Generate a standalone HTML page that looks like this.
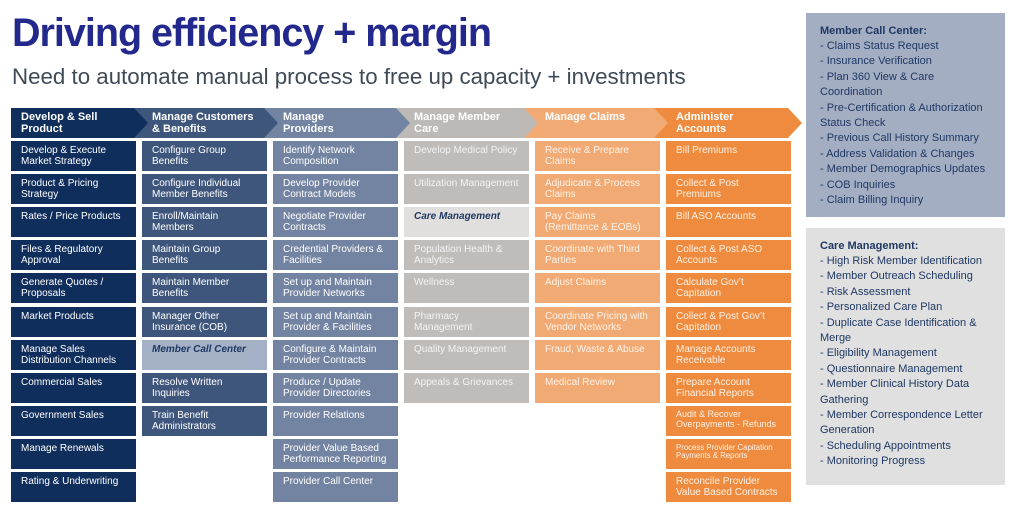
<!DOCTYPE html>
<html>
<head>
<meta charset="utf-8">
<style>
  html, body { margin:0; padding:0; }
  body { width:1024px; height:514px; background:#ffffff; position:relative; overflow:hidden;
         font-family:"Liberation Sans", Arial, sans-serif; }
  .title { position:absolute; left:12px; top:9px; font-size:39.5px; font-weight:bold; color:#23298c;
           letter-spacing:-1px; line-height:48px; white-space:nowrap; }
  .sub { position:absolute; left:12px; top:63px; font-size:22.3px; color:#3f4a57; line-height:28px; white-space:nowrap; }
  .hdr { position:absolute; top:111px; font-size:11px; font-weight:bold; color:#ffffff; line-height:12px; }
  .box { position:absolute; width:125px; height:30px; box-sizing:border-box; padding:4px 0 0 10px;
         font-size:10px; line-height:11px; color:#ffffff; }
  .c1 { background:#102e5c; }
  .c2 { background:#3f567c; }
  .c3 { background:#7384a2; }
  .c4 { background:#bfbcb9; color:#f4f4f4; }
  .c5 { background:#f2aa74; color:#fdf3ea; }
  .c6 { background:#ef8b3f; color:#fdf1e6; }
  .hl2 { background:#a4b0c5; color:#1f3864; font-weight:bold; font-style:italic; }
  .hl4 { background:#e0dfdd; color:#1f3864; font-weight:bold; font-style:italic; }
  .panel { position:absolute; left:806px; width:199px; box-sizing:border-box; padding:10.5px 0 0 14px;
           font-size:11px; line-height:15.4px; color:#1f3864; }
  .panel b { font-weight:bold; }
</style>
</head>
<body>
<div class="title">Driving efficiency + margin</div>
<div class="sub">Need to automate manual process to free up capacity + investments</div>

<svg style="position:absolute;left:0;top:0" width="1024" height="514">
  <polygon points="654,108 788,108 802,123 788,138 654,138" fill="#ef8b3f"/>
  <polygon points="524,108 654,108 668,123 654,138 524,138" fill="#f2aa74"/>
  <polygon points="396,108 524,108 538,123 524,138 396,138" fill="#bdb9b6"/>
  <polygon points="264,108 396,108 410,123 396,138 264,138" fill="#7384a2"/>
  <polygon points="134,108 264,108 278,123 264,138 134,138" fill="#3f567c"/>
  <polygon points="11,108 134,108 148,123 134,138 11,138" fill="#102e5c"/>
</svg>

<div class="hdr" style="left:21px">Develop &amp; Sell<br>Product</div>
<div class="hdr" style="left:152px">Manage Customers<br>&amp; Benefits</div>
<div class="hdr" style="left:283px">Manage<br>Providers</div>
<div class="hdr" style="left:414px">Manage Member<br>Care</div>
<div class="hdr" style="left:545px">Manage Claims</div>
<div class="hdr" style="left:676px">Administer<br>Accounts</div>

<!-- Column 1 -->
<div class="box c1" style="left:11px;top:141px">Develop &amp; Execute<br>Market Strategy</div>
<div class="box c1" style="left:11px;top:174px">Product &amp; Pricing<br>Strategy</div>
<div class="box c1" style="left:11px;top:207px">Rates / Price Products</div>
<div class="box c1" style="left:11px;top:240px">Files &amp; Regulatory<br>Approval</div>
<div class="box c1" style="left:11px;top:273px">Generate Quotes /<br>Proposals</div>
<div class="box c1" style="left:11px;top:307px">Market Products</div>
<div class="box c1" style="left:11px;top:340px">Manage Sales<br>Distribution Channels</div>
<div class="box c1" style="left:11px;top:373px">Commercial Sales</div>
<div class="box c1" style="left:11px;top:406px">Government Sales</div>
<div class="box c1" style="left:11px;top:439px">Manage Renewals</div>
<div class="box c1" style="left:11px;top:472px">Rating &amp; Underwriting</div>

<!-- Column 2 -->
<div class="box c2" style="left:142px;top:141px">Configure Group<br>Benefits</div>
<div class="box c2" style="left:142px;top:174px">Configure Individual<br>Member Benefits</div>
<div class="box c2" style="left:142px;top:207px">Enroll/Maintain<br>Members</div>
<div class="box c2" style="left:142px;top:240px">Maintain Group<br>Benefits</div>
<div class="box c2" style="left:142px;top:273px">Maintain Member<br>Benefits</div>
<div class="box c2" style="left:142px;top:307px">Manager Other<br>Insurance (COB)</div>
<div class="box hl2" style="left:142px;top:340px">Member Call Center</div>
<div class="box c2" style="left:142px;top:373px">Resolve Written<br>Inquiries</div>
<div class="box c2" style="left:142px;top:406px">Train Benefit<br>Administrators</div>

<!-- Column 3 -->
<div class="box c3" style="left:273px;top:141px">Identify Network<br>Composition</div>
<div class="box c3" style="left:273px;top:174px">Develop Provider<br>Contract Models</div>
<div class="box c3" style="left:273px;top:207px">Negotiate Provider<br>Contracts</div>
<div class="box c3" style="left:273px;top:240px">Credential Providers &amp;<br>Facilities</div>
<div class="box c3" style="left:273px;top:273px">Set up and Maintain<br>Provider Networks</div>
<div class="box c3" style="left:273px;top:307px">Set up and Maintain<br>Provider &amp; Facilities</div>
<div class="box c3" style="left:273px;top:340px">Configure &amp; Maintain<br>Provider Contracts</div>
<div class="box c3" style="left:273px;top:373px">Produce / Update<br>Provider Directories</div>
<div class="box c3" style="left:273px;top:406px">Provider Relations</div>
<div class="box c3" style="left:273px;top:439px">Provider Value Based<br>Performance Reporting</div>
<div class="box c3" style="left:273px;top:472px">Provider Call Center</div>

<!-- Column 4 -->
<div class="box c4" style="left:404px;top:141px">Develop Medical Policy</div>
<div class="box c4" style="left:404px;top:174px">Utilization Management</div>
<div class="box hl4" style="left:404px;top:207px">Care Management</div>
<div class="box c4" style="left:404px;top:240px">Population Health &amp;<br>Analytics</div>
<div class="box c4" style="left:404px;top:273px">Wellness</div>
<div class="box c4" style="left:404px;top:307px">Pharmacy<br>Management</div>
<div class="box c4" style="left:404px;top:340px">Quality Management</div>
<div class="box c4" style="left:404px;top:373px">Appeals &amp; Grievances</div>

<!-- Column 5 -->
<div class="box c5" style="left:535px;top:141px">Receive &amp; Prepare<br>Claims</div>
<div class="box c5" style="left:535px;top:174px">Adjudicate &amp; Process<br>Claims</div>
<div class="box c5" style="left:535px;top:207px">Pay Claims<br>(Remittance &amp; EOBs)</div>
<div class="box c5" style="left:535px;top:240px">Coordinate with Third<br>Parties</div>
<div class="box c5" style="left:535px;top:273px">Adjust Claims</div>
<div class="box c5" style="left:535px;top:307px">Coordinate Pricing with<br>Vendor Networks</div>
<div class="box c5" style="left:535px;top:340px">Fraud, Waste &amp; Abuse</div>
<div class="box c5" style="left:535px;top:373px">Medical Review</div>

<!-- Column 6 -->
<div class="box c6" style="left:666px;top:141px">Bill Premiums</div>
<div class="box c6" style="left:666px;top:174px">Collect &amp; Post<br>Premiums</div>
<div class="box c6" style="left:666px;top:207px">Bill ASO Accounts</div>
<div class="box c6" style="left:666px;top:240px">Collect &amp; Post ASO<br>Accounts</div>
<div class="box c6" style="left:666px;top:273px">Calculate Gov’t<br>Capitation</div>
<div class="box c6" style="left:666px;top:307px">Collect &amp; Post Gov’t<br>Capitation</div>
<div class="box c6" style="left:666px;top:340px">Manage Accounts<br>Receivable</div>
<div class="box c6" style="left:666px;top:373px">Prepare Account<br>Financial Reports</div>
<div class="box c6" style="left:666px;top:406px;font-size:9px;line-height:9.8px;padding-top:4px">Audit &amp; Recover<br>Overpayments - Refunds</div>
<div class="box c6" style="left:666px;top:439px;font-size:7.8px;line-height:8.4px;padding-top:5px">Process Provider Capitation<br>Payments &amp; Reports</div>
<div class="box c6" style="left:666px;top:472px">Reconcile Provider<br>Value Based Contracts</div>

<!-- Right panels -->
<div class="panel" style="top:13px;height:204px;background:#a4aec2">
<b>Member Call Center:</b><br>
- Claims Status Request<br>
- Insurance Verification<br>
- Plan 360 View &amp; Care<br>
Coordination<br>
- Pre-Certification &amp; Authorization<br>
Status Check<br>
- Previous Call History Summary<br>
- Address Validation &amp; Changes<br>
- Member Demographics Updates<br>
- COB Inquiries<br>
- Claim Billing Inquiry
</div>

<div class="panel" style="top:228px;height:257px;background:#e0e0e0">
<b>Care Management:</b><br>
- High Risk Member Identification<br>
- Member Outreach Scheduling<br>
- Risk Assessment<br>
- Personalized Care Plan<br>
- Duplicate Case Identification &amp;<br>
Merge<br>
- Eligibility Management<br>
- Questionnaire Management<br>
- Member Clinical History Data<br>
Gathering<br>
- Member Correspondence Letter<br>
Generation<br>
- Scheduling Appointments<br>
- Monitoring Progress
</div>
</body>
</html>
